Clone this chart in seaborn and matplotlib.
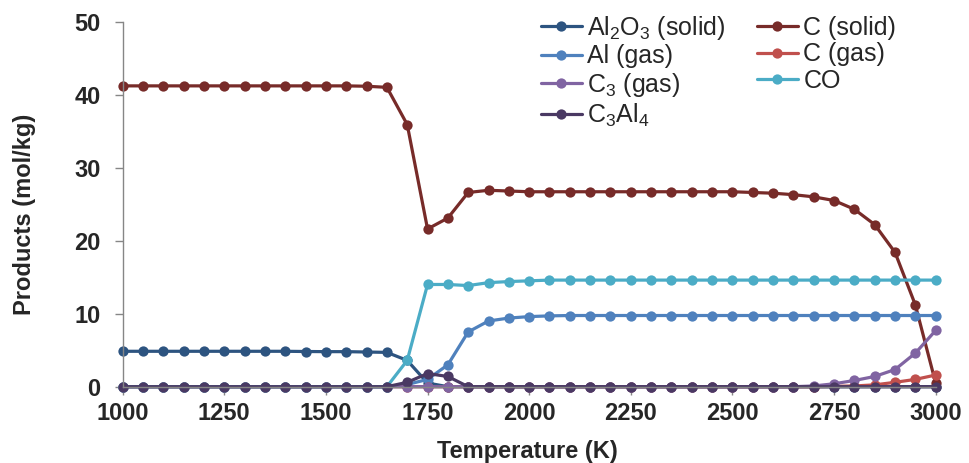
import matplotlib
matplotlib.use("Agg")
import matplotlib.pyplot as plt
import seaborn as sns

# ── Data ──────────────────────────────────────────────────────────────────────
temperature = [1000, 1050, 1100, 1150, 1200, 1250, 1300, 1350, 1400, 1450,
               1500, 1550, 1600, 1650, 1700, 1750, 1800, 1850, 1900, 1950,
               2000, 2050, 2100, 2150, 2200, 2250, 2300, 2350, 2400, 2450,
               2500, 2550, 2600, 2650, 2700, 2750, 2800, 2850, 2900, 2950,
               3000]

al2o3_solid = [4.85, 4.85, 4.85, 4.85, 4.85, 4.85, 4.85, 4.85, 4.85, 4.82,
               4.8, 4.8, 4.75, 4.7, 3.6, 0.5, 0, 0, 0, 0,
               0, 0, 0, 0, 0, 0, 0, 0, 0, 0,
               0, 0, 0, 0, 0, 0, 0, 0, 0, 0, 0]

c_solid = [41.2, 41.2, 41.2, 41.2, 41.2, 41.2, 41.2, 41.2, 41.2, 41.2,
           41.2, 41.2, 41.15, 41.0, 35.9, 21.6, 23.1, 26.6, 26.9, 26.8,
           26.7, 26.7, 26.7, 26.7, 26.7, 26.7, 26.7, 26.7, 26.7, 26.7,
           26.7, 26.6, 26.5, 26.3, 26.0, 25.5, 24.3, 22.2, 18.4, 11.2, 0.5]

al_gas = [0, 0, 0, 0, 0, 0, 0, 0, 0, 0,
          0, 0, 0, 0, 0.3, 1.0, 3.0, 7.5, 9.0, 9.4,
          9.6, 9.7, 9.75, 9.75, 9.75, 9.75, 9.75, 9.75, 9.75, 9.75,
          9.75, 9.75, 9.75, 9.75, 9.75, 9.75, 9.75, 9.75, 9.75, 9.75, 9.75]

c_gas = [0, 0, 0, 0, 0, 0, 0, 0, 0, 0,
         0, 0, 0, 0, 0, 0, 0, 0, 0, 0,
         0, 0, 0, 0, 0, 0, 0, 0, 0, 0,
         0, 0, 0, 0, 0, 0.05, 0.1, 0.25, 0.6, 1.0, 1.6]

c3_gas = [0, 0, 0, 0, 0, 0, 0, 0, 0, 0,
          0, 0, 0, 0, 0, 0, 0, 0, 0, 0,
          0, 0, 0, 0, 0, 0, 0, 0, 0, 0,
          0, 0, 0, 0, 0.1, 0.4, 0.85, 1.4, 2.35, 4.6, 7.7]

co = [0, 0, 0, 0, 0, 0, 0, 0, 0, 0,
      0, 0, 0, 0, 3.6, 14.0, 14.0, 13.85, 14.25, 14.4,
      14.5, 14.6, 14.6, 14.6, 14.6, 14.6, 14.6, 14.6, 14.6, 14.6,
      14.6, 14.6, 14.6, 14.6, 14.6, 14.6, 14.6, 14.6, 14.6, 14.6, 14.6]

c3al4 = [0, 0, 0, 0, 0, 0, 0, 0, 0, 0,
         0, 0, 0, 0, 0.6, 1.8, 1.4, 0, 0, 0,
         0, 0, 0, 0, 0, 0, 0, 0, 0, 0,
         0, 0, 0, 0, 0, 0, 0, 0, 0, 0, 0]

# series in drawing order (last on top)
SERIES = [
    ("al2o3", r"Al$_\mathrm{2}$O$_\mathrm{3}$ (solid)", al2o3_solid, "#2D5480"),
    ("c_solid", "C (solid)", c_solid, "#772B29"),
    ("al_gas", "Al (gas)", al_gas, "#4F81BD"),
    ("c_gas", "C (gas)", c_gas, "#C0504D"),
    ("c3_gas", r"C$_\mathrm{3}$ (gas)", c3_gas, "#8064A2"),
    ("co", "CO", co, "#4BACC6"),
    ("c3al4", r"C$_\mathrm{3}$Al$_\mathrm{4}$", c3al4, "#4A3963"),
]
LEGEND_ORDER = ["al2o3", "al_gas", "c3_gas", "c3al4", "c_solid", "c_gas", "co"]

# ── Style ─────────────────────────────────────────────────────────────────────
sns.set_style("white")
plt.rcParams.update({
    "font.family": ["Liberation Sans", "DejaVu Sans"],
    "mathtext.fontset": "custom",
    "mathtext.rm": "Liberation Sans",
    "mathtext.it": "Liberation Sans",
})

fig = plt.figure(figsize=(9.69, 4.63), dpi=100)
ax = fig.add_axes([0.1266, 0.1648, 0.839, 0.7885])

handles = {}
for key, label, vals, color in SERIES:
    sns.lineplot(x=temperature, y=vals, ax=ax, color=color, marker="o",
                 markersize=7.4, markeredgewidth=0, linewidth=2.3,
                 label=label, clip_on=False)
    handles[key] = (ax.lines[-1], label)

ax.set_xlim(1000, 3000)
ax.set_ylim(0, 50)
ax.set_xticks([1000, 1250, 1500, 1750, 2000, 2250, 2500, 2750, 3000])
ax.set_yticks([0, 10, 20, 30, 40, 50])

for side in ["top", "right"]:
    ax.spines[side].set_visible(False)
for side in ["left", "bottom"]:
    ax.spines[side].set_color("#868686")
    ax.spines[side].set_linewidth(1.0)
ax.tick_params(axis="both", direction="out", length=5.8, width=1, color="#868686",
               labelsize=17, bottom=True, left=True)
ax.tick_params(axis="x", pad=5)
ax.tick_params(axis="y", pad=10)
for lbl in ax.get_xticklabels() + ax.get_yticklabels():
    lbl.set_fontweight("bold")

ax.set_xlabel("Temperature (K)", fontsize=17, fontweight="bold")
ax.set_ylabel("Products (mol/kg)", fontsize=17, fontweight="bold")
ax.xaxis.set_label_coords(0.498, -0.145)
ax.yaxis.set_label_coords(-0.107, 0.473)

ax.legend([handles[k][0] for k in LEGEND_ORDER], [handles[k][1] for k in LEGEND_ORDER],
          ncol=2, frameon=False, fontsize=18, loc="upper left",
          bbox_to_anchor=(0.558, 0.970), bbox_transform=fig.transFigure,
          handlelength=1.64, handletextpad=0.22, columnspacing=1.24,
          labelspacing=0.1, borderpad=0, borderaxespad=0)

fig.savefig("out.png", dpi=100)
